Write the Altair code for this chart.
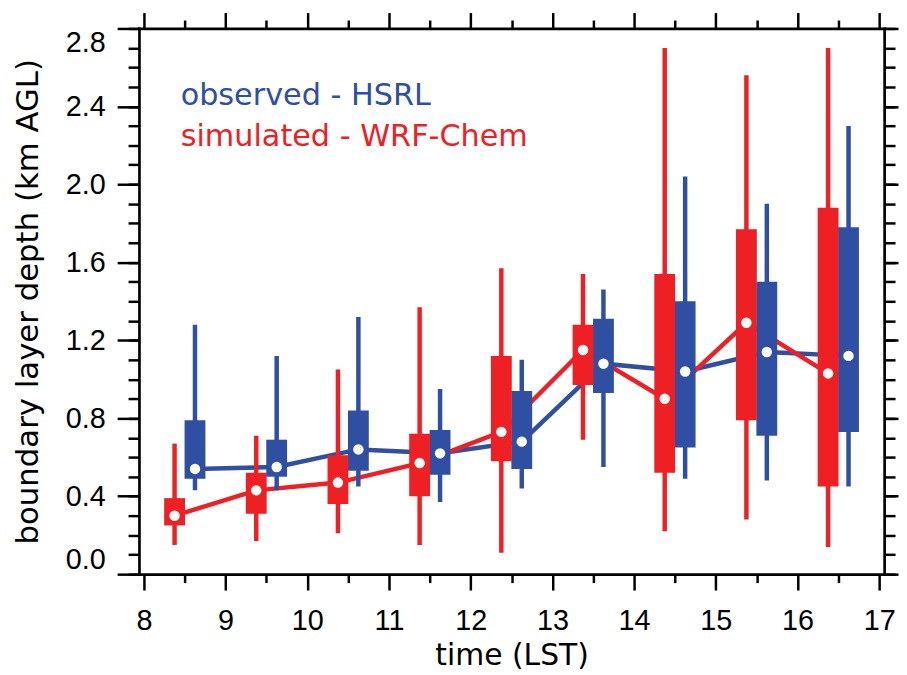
import altair as alt
import pandas as pd

# ---------------- data ----------------
hours = [8, 9, 10, 11, 12, 13, 14, 15, 16]

# observed - HSRL (blue), drawn at hour + 0.625
obs_low = [0.43, 0.43, 0.45, 0.37, 0.44, 0.55, 0.49, 0.48, 0.45]
obs_q1 = [0.49, 0.50, 0.53, 0.51, 0.54, 0.93, 0.65, 0.71, 0.73]
obs_med = [0.54, 0.55, 0.64, 0.62, 0.68, 1.08, 1.04, 1.14, 1.12]
obs_q3 = [0.79, 0.69, 0.84, 0.74, 0.94, 1.31, 1.40, 1.50, 1.78]
obs_high = [1.28, 1.12, 1.32, 0.95, 1.10, 1.46, 2.04, 1.90, 2.30]

# simulated - WRF-Chem (red), drawn at hour + 0.375
sim_low = [0.15, 0.17, 0.21, 0.15, 0.11, 0.69, 0.22, 0.28, 0.14]
sim_q1 = [0.25, 0.31, 0.36, 0.40, 0.58, 0.97, 0.52, 0.79, 0.45]
sim_med = [0.30, 0.43, 0.47, 0.57, 0.73, 1.15, 0.90, 1.29, 1.03]
sim_q3 = [0.39, 0.52, 0.61, 0.72, 1.12, 1.28, 1.54, 1.77, 1.88]
sim_high = [0.67, 0.71, 1.05, 1.37, 1.57, 1.54, 2.70, 2.56, 2.70]

series_names = ["observed - HSRL", "simulated - WRF-Chem"]
series_offsets = [0.625, 0.375]
series_colors = ["#2F4FA2", "#EE2024"]

x_major = [8, 9, 10, 11, 12, 13, 14, 15, 16, 17]
x_minor = [8.5, 9.5, 10.5, 11.5, 12.5, 13.5, 14.5, 15.5, 16.5]
y_major = [0.0, 0.4, 0.8, 1.2, 1.6, 2.0, 2.4, 2.8]
y_minor = [round(i * 0.1, 1) for i in range(29)]

# ---------------- table ----------------
rows = []
for name, off, lo, q1, md, q3, hi in [
    (series_names[0], series_offsets[0], obs_low, obs_q1, obs_med, obs_q3, obs_high),
    (series_names[1], series_offsets[1], sim_low, sim_q1, sim_med, sim_q3, sim_high),
]:
    for i, h in enumerate(hours):
        rows.append({"series": name, "hour": h, "off": off, "low": lo[i], "q1": q1[i],
                     "med": md[i], "q3": q3[i], "high": hi[i]})
df = pd.DataFrame(rows)

LFONT = "Liberation Sans"
TFONT = "DejaVu Sans"
W, H = 751, 550

xs = alt.Scale(domain=[8, 17], nice=False, zero=False)
ys = alt.Scale(domain=[0, 2.8], nice=False, zero=False)
cs = alt.Scale(domain=series_names, range=series_colors)

common = dict(domainColor="black", tickColor="black", domainWidth=2.7, tickWidth=2.5,
              domainCap="square", grid=False)

ax_bottom = alt.Axis(orient="bottom", values=x_major, tickSize=16, labelPadding=17,
                     format="d", labelFont=LFONT, labelFontSize=29, labelColor="black",
                     title="time (LST)", titleFont=TFONT, titleFontSize=30,
                     titleFontWeight="normal", titleColor="black", titleY=91,
                     titleBaseline="alphabetic", **common)
ax_top = alt.Axis(orient="top", values=x_major, tickSize=16, labels=False, title=None, **common)
ax_bottom_minor = alt.Axis(orient="bottom", values=x_minor, tickSize=8.5, labels=False,
                           domain=False, title=None, tickColor="black", tickWidth=2.5, grid=False)
ax_top_minor = alt.Axis(orient="top", values=x_minor, tickSize=8.5, labels=False,
                        domain=False, title=None, tickColor="black", tickWidth=2.5, grid=False)

ax_left = alt.Axis(orient="left", values=y_major, tickSize=22, labelPadding=12, format=".1f",
                   labelFlush=True, labelFont=LFONT, labelFontSize=29, labelColor="black",
                   title="boundary layer depth (km AGL)", titleFont=TFONT, titleFontSize=31,
                   titleFontWeight="normal", titleColor="black", titleX=-102,
                   titleBaseline="alphabetic", **common)
ax_right = alt.Axis(orient="right", values=y_major, tickSize=14, labels=False, title=None, **common)
ax_left_minor = alt.Axis(orient="left", values=y_minor, tickSize=11, labels=False,
                         domain=False, title=None, tickColor="black", tickWidth=2.5, grid=False)
ax_right_minor = alt.Axis(orient="right", values=y_minor, tickSize=11, labels=False,
                          domain=False, title=None, tickColor="black", tickWidth=2.5, grid=False)

base = alt.Chart(df).transform_calculate(pos="datum.hour + datum.off")
color = alt.Color("series:N", scale=cs, legend=None)

lines = base.mark_line(strokeWidth=4.5).encode(
    x=alt.X("pos:Q", scale=xs, axis=ax_bottom),
    y=alt.Y("med:Q", scale=ys, axis=ax_left),
    color=color,
)

whiskers = base.mark_rule(strokeWidth=4.5, strokeCap="butt").encode(
    x=alt.X("pos:Q", scale=xs, axis=ax_top),
    y=alt.Y("low:Q", scale=ys, axis=ax_right),
    y2="high:Q",
    color=color,
)

boxes = base.mark_bar(size=21).encode(
    x=alt.X("pos:Q", scale=xs, axis=ax_bottom_minor),
    y=alt.Y("q1:Q", scale=ys, axis=ax_left_minor),
    y2="q3:Q",
    color=color,
)

dots = base.mark_circle(size=110, color="white", opacity=1).encode(
    x=alt.X("pos:Q", scale=xs, axis=ax_top_minor),
    y=alt.Y("med:Q", scale=ys, axis=ax_right_minor),
)

legend_obs = alt.Chart(alt.Data(values=[{"t": series_names[0]}])).mark_text(
    align="left", baseline="alphabetic", font=TFONT, fontSize=30.5, color=series_colors[0]
).encode(x=alt.value(42), y=alt.value(77), text="t:N")

legend_sim = alt.Chart(alt.Data(values=[{"t": series_names[1]}])).mark_text(
    align="left", baseline="alphabetic", font=TFONT, fontSize=30.5, color=series_colors[1]
).encode(x=alt.value(42), y=alt.value(118), text="t:N")

chart = alt.layer(lines, whiskers, boxes, dots, legend_obs, legend_sim).resolve_scale(
    x="shared", y="shared", color="shared"
).resolve_axis(
    x="independent", y="independent"
).properties(
    width=W, height=H,
    autosize=alt.AutoSizeParams(type="none"),
    padding={"left": 132, "top": 18, "right": 15, "bottom": 98},
).configure_view(stroke=None).configure(background="white")

chart.save("out.html", embed_options={"renderer": "svg", "actions": False})
